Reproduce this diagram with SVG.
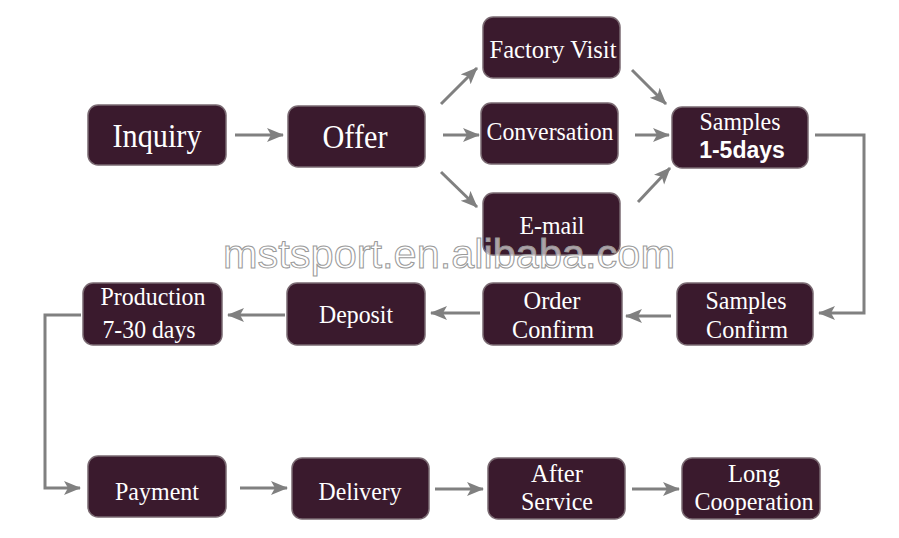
<svg xmlns="http://www.w3.org/2000/svg" width="899" height="538" viewBox="0 0 899 538">
<defs>
<style>
.box{fill:#3a1a2d;stroke:#7a6a72;stroke-width:1.5}
.t{font-family:'Liberation Serif','Times New Roman',serif;font-size:26px;fill:#ffffff;text-anchor:middle}
.big{font-size:33px}
.b{font-family:'Liberation Sans',Arial,sans-serif;font-weight:bold;font-size:23px}
.c{fill:none;stroke:#808080;stroke-width:3}
.wm{font-family:'Liberation Sans',Arial,sans-serif;font-size:40px;fill:#ffffff;fill-opacity:0.6;stroke:#9a9a9a;stroke-width:1}
</style>
<marker id="ah" markerUnits="userSpaceOnUse" markerWidth="20" markerHeight="16" refX="16" refY="7" orient="auto">
<path d="M0,0 L17,7 L0,14 L4,7 Z" fill="#808080"/>
</marker>
</defs>
<rect width="899" height="538" fill="#ffffff"/>
<g id="connectors">
<line class="c" x1="235" y1="135" x2="283" y2="135" marker-end="url(#ah)"/>
<line class="c" x1="441" y1="104" x2="477" y2="68" marker-end="url(#ah)"/>
<line class="c" x1="443" y1="135" x2="479" y2="135" marker-end="url(#ah)"/>
<line class="c" x1="441" y1="172" x2="477" y2="207" marker-end="url(#ah)"/>
<line class="c" x1="632" y1="70" x2="666" y2="104" marker-end="url(#ah)"/>
<line class="c" x1="635" y1="135" x2="669" y2="135" marker-end="url(#ah)"/>
<line class="c" x1="638" y1="202" x2="670" y2="168" marker-end="url(#ah)"/>
<polyline class="c" points="815,135 864,135 864,313 819,313" marker-end="url(#ah)"/>
<line class="c" x1="671" y1="316" x2="626" y2="316" marker-end="url(#ah)"/>
<line class="c" x1="480" y1="313" x2="431" y2="313" marker-end="url(#ah)"/>
<line class="c" x1="285" y1="315" x2="228" y2="315" marker-end="url(#ah)"/>
<polyline class="c" points="81,315 45,315 45,488 80,488" marker-end="url(#ah)"/>
<line class="c" x1="240" y1="488" x2="287" y2="488" marker-end="url(#ah)"/>
<line class="c" x1="435" y1="489" x2="483" y2="489" marker-end="url(#ah)"/>
<line class="c" x1="632" y1="489" x2="679" y2="489" marker-end="url(#ah)"/>
</g>
<g id="inquiry"><rect class="box" x="88" y="105" width="138" height="60" rx="10"/><text class="t big" x="157" y="147" textLength="89" lengthAdjust="spacingAndGlyphs">Inquiry</text></g>
<g id="offer"><rect class="box" x="288" y="106" width="137" height="61" rx="10"/><text class="t big" x="355" y="148" textLength="65" lengthAdjust="spacingAndGlyphs">Offer</text></g>
<g id="factory-visit"><rect class="box" x="483" y="17" width="137" height="61" rx="10"/><text class="t" x="553" y="58" textLength="127" lengthAdjust="spacingAndGlyphs">Factory Visit</text></g>
<g id="conversation"><rect class="box" x="481" y="103" width="137" height="61" rx="10"/><text class="t" x="550" y="140" textLength="127" lengthAdjust="spacingAndGlyphs">Conversation</text></g>
<g id="email"><rect class="box" x="483" y="193" width="137" height="62" rx="10"/><text class="t" x="552" y="234" textLength="65" lengthAdjust="spacingAndGlyphs">E-mail</text></g>
<g id="samples"><rect class="box" x="672" y="107" width="136" height="61" rx="10"/><text class="t" x="740" y="130" textLength="81" lengthAdjust="spacingAndGlyphs">Samples</text><text class="t b" x="742" y="158">1-5days</text></g>
<g id="samples-confirm"><rect class="box" x="677" y="283" width="136" height="62" rx="10"/><text class="t" x="746" y="309" textLength="81" lengthAdjust="spacingAndGlyphs">Samples</text><text class="t" x="747" y="338" textLength="82" lengthAdjust="spacingAndGlyphs">Confirm</text></g>
<g id="order-confirm"><rect class="box" x="483" y="283" width="139" height="62" rx="10"/><text class="t" x="552" y="309" textLength="57" lengthAdjust="spacingAndGlyphs">Order</text><text class="t" x="553" y="338" textLength="82" lengthAdjust="spacingAndGlyphs">Confirm</text></g>
<g id="deposit"><rect class="box" x="287" y="283" width="138" height="62" rx="10"/><text class="t" x="356" y="323" textLength="74" lengthAdjust="spacingAndGlyphs">Deposit</text></g>
<g id="production"><rect class="box" x="83" y="283" width="139" height="62" rx="10"/><text class="t" x="153" y="305" textLength="105" lengthAdjust="spacingAndGlyphs">Production</text><text class="t" x="149" y="338" textLength="93" lengthAdjust="spacingAndGlyphs">7-30 days</text></g>
<g id="payment"><rect class="box" x="88" y="456" width="138" height="61" rx="10"/><text class="t" x="157" y="500" textLength="84" lengthAdjust="spacingAndGlyphs">Payment</text></g>
<g id="delivery"><rect class="box" x="292" y="458" width="137" height="61" rx="10"/><text class="t" x="360" y="500" textLength="83" lengthAdjust="spacingAndGlyphs">Delivery</text></g>
<g id="after-service"><rect class="box" x="488" y="458" width="137" height="61" rx="10"/><text class="t" x="557" y="482" textLength="52" lengthAdjust="spacingAndGlyphs">After</text><text class="t" x="557" y="510" textLength="72" lengthAdjust="spacingAndGlyphs">Service</text></g>
<g id="long-cooperation"><rect class="box" x="682" y="458" width="138" height="61" rx="10"/><text class="t" x="754" y="482" textLength="52" lengthAdjust="spacingAndGlyphs">Long</text><text class="t" x="754" y="510" textLength="119" lengthAdjust="spacingAndGlyphs">Cooperation</text></g>
<text class="wm" x="223" y="268" textLength="452" lengthAdjust="spacingAndGlyphs">mstsport.en.alibaba.com</text>
</svg>
